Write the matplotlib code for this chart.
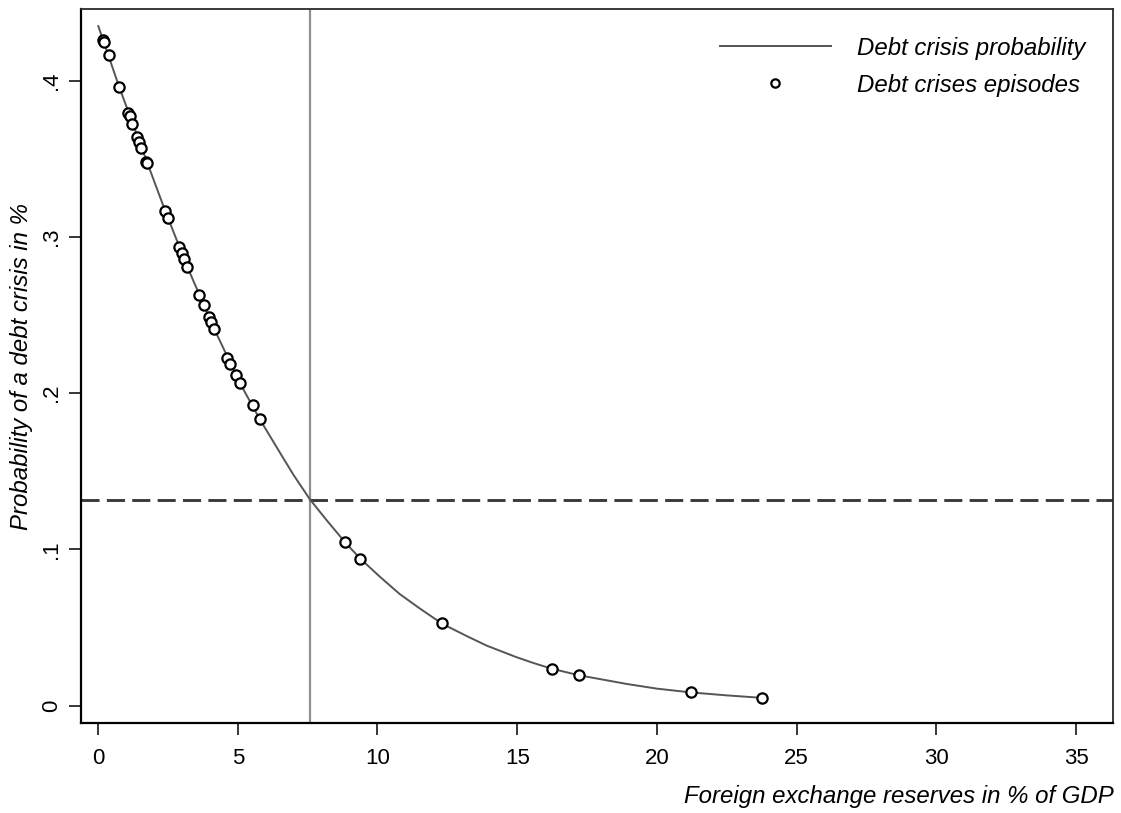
import matplotlib
matplotlib.use("Agg")
import matplotlib.pyplot as plt
from matplotlib.lines import Line2D

plt.rcParams['font.family'] = ['Liberation Sans', 'DejaVu Sans']

# Debt crises episodes (reserves % of GDP, predicted probability)
episode_x = [0.19, 0.225, 0.39, 0.76, 1.08, 1.14, 1.23, 1.41, 1.48, 1.55, 1.72, 1.76,
             2.40, 2.49, 2.91, 2.99, 3.08, 3.19, 3.62, 3.78, 3.98, 4.04, 4.16,
             4.63, 4.73, 4.95, 5.08, 5.53, 5.80, 8.84, 9.38, 12.31, 16.23, 17.20, 21.21, 23.77]
episode_y = [0.4262, 0.4251, 0.4166, 0.3959, 0.3796, 0.3775, 0.3724, 0.3643, 0.3611, 0.3572, 0.3483, 0.3472,
             0.3169, 0.3120, 0.2939, 0.2896, 0.2858, 0.2811, 0.2629, 0.2565, 0.2487, 0.2458, 0.2411,
             0.2228, 0.2186, 0.2117, 0.2064, 0.1923, 0.1835, 0.1046, 0.0939, 0.0528, 0.0237, 0.0195, 0.0086, 0.0051]

# Fitted debt crisis probability curve
curve_x = [0.01, 0.76, 1.48, 2.40, 3.19, 4.16, 5.08, 5.80, 6.63, 7.00, 7.58, 8.20, 8.84, 9.38,
           10.10, 10.80, 11.50, 12.31, 13.20, 13.90, 14.98, 15.60, 16.23, 17.20, 18.92, 20.00,
           21.21, 22.49, 23.77]
curve_y = [0.435, 0.3959, 0.3611, 0.3169, 0.2811, 0.2411, 0.2064, 0.1830, 0.1584, 0.1476, 0.1321, 0.1183,
           0.1046, 0.0942, 0.0823, 0.0714, 0.0624, 0.0525, 0.0445, 0.0385, 0.0310, 0.0272, 0.0237,
           0.0195, 0.0139, 0.0109, 0.0085, 0.0066, 0.0050]

threshold_x = 7.6
threshold_y = 0.1317

x_ticks = [0, 5, 10, 15, 20, 25, 30, 35]
y_ticks = [0, 0.1, 0.2, 0.3, 0.4]
y_ticklabels = ['0', '.1', '.2', '.3', '.4']

fig = plt.figure(figsize=(11.21, 8.13), dpi=100)
ax = fig.add_axes([0.072, 0.1103, 0.9931 - 0.072, 0.9886 - 0.1103])

ax.axvline(threshold_x, color='#8f8f8f', lw=1.6, zorder=1)
ax.axhline(threshold_y, color='#3a3a3a', lw=2.1, zorder=1, dashes=(6.2, 2.5))
ax.plot(curve_x, curve_y, color='#555555', lw=1.4, zorder=2, solid_joinstyle='round')
ax.plot(episode_x, episode_y, ls='none', marker='o', ms=7.4, mfc='white', mec='black',
        mew=1.6, zorder=3)

ax.set_xlim(-0.62, 36.33)
ax.set_ylim(-0.0113, 0.4458)
ax.set_xticks(x_ticks)
ax.set_xticklabels([str(t) for t in x_ticks])
ax.set_yticks(y_ticks)
ax.set_yticklabels(y_ticklabels, rotation=90, va='center')

ax.tick_params(axis='both', direction='out', length=8.5, width=1.1, colors='black',
               labelsize=16)
ax.tick_params(axis='x', pad=9)
ax.tick_params(axis='y', pad=5)

for s in ['left', 'bottom']:
    ax.spines[s].set_linewidth(1.6)
    ax.spines[s].set_color('black')
for s in ['top', 'right']:
    ax.spines[s].set_linewidth(1.3)
    ax.spines[s].set_color('#2a2a2a')

ax.set_ylabel('Probability of a debt crisis in %', fontsize=17.3, style='italic', labelpad=6)
ax.set_xlabel('Foreign exchange reserves in % of GDP', fontsize=17.3, style='italic',
              loc='right', labelpad=12)

handles = [Line2D([], [], color='#555555', lw=1.4),
           Line2D([], [], ls='none', marker='o', ms=6, mfc='white', mec='black', mew=1.6)]
leg = ax.legend(handles, ['Debt crisis probability', 'Debt crises episodes'],
                loc='upper right', bbox_to_anchor=(0.9936, 0.9916), frameon=False,
                prop={'size': 17.3, 'style': 'italic'}, handlelength=4.6,
                handletextpad=1.08, labelspacing=0.58)

fig.savefig('out.png', dpi=100)
